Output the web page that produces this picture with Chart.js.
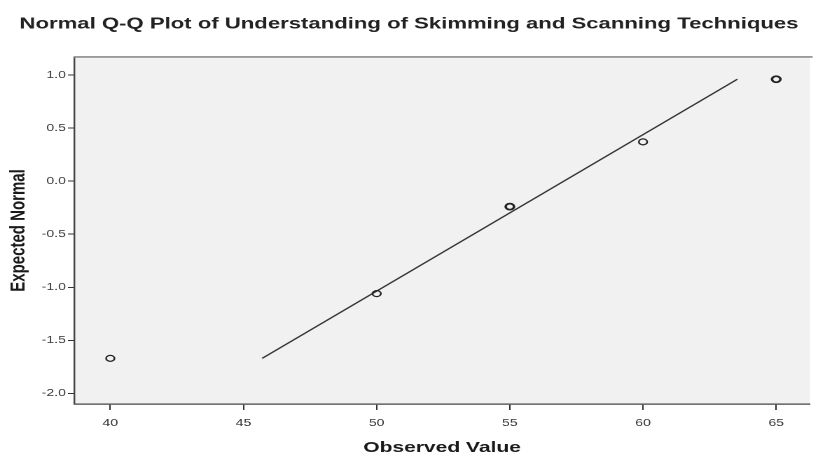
<!DOCTYPE html>
<html>
<head>
<meta charset="utf-8">
<title>Normal Q-Q Plot</title>
<script src="https://cdn.jsdelivr.net/npm/chart.js@4"></script>
<style>
  html, body { margin: 0; padding: 0; background: #fff; overflow: hidden; }
  /* the reference is stretched sideways, so the chart is drawn narrow and widened */
  #wrap {
    position: absolute; left: 0; top: 0;
    width: 584px; height: 459px;
    transform: scaleX(1.40068); transform-origin: 0 0;
  }
</style>
</head>
<body>
<div id="wrap"><canvas id="qq"></canvas></div>
<script>
// observed scores and their expected normal values
const observed = [40, 50, 55, 60, 65];
const expected = [-1.67, -1.06, -0.24, 0.37, 0.96];

// reference line end points
const lineX = [45.70, 63.54];
const lineY = [-1.67, 0.96];

// tick labels
const xTicks = [40, 45, 50, 55, 60, 65];
const yTicks = [1.0, 0.5, 0.0, -0.5, -1.0, -1.5, -2.0];

const FONT = "'Liberation Sans', Arial, sans-serif";

const plotFrame = {
  id: "plotFrame",
  beforeDraw(chart) {
    const { ctx, chartArea: a } = chart;
    ctx.save();
    ctx.fillStyle = "#f1f1f1";
    ctx.fillRect(a.left, a.top, a.right - a.left, a.bottom - a.top);
    ctx.restore();
  },
  afterDraw(chart) {
    const { ctx, chartArea: a } = chart;
    ctx.save();
    ctx.strokeStyle = "#8c8c8c";
    ctx.lineWidth = 1.6;
    ctx.beginPath();
    ctx.moveTo(a.left, a.top);
    ctx.lineTo(a.right + 2, a.top);
    ctx.stroke();
    ctx.restore();
  }
};

new Chart(document.getElementById("qq"), {
  type: "scatter",
  data: {
    datasets: [
      {
        label: "Observed",
        data: observed.map((x, i) => ({ x: x, y: expected[i] })),
        showLine: false,
        pointStyle: "circle",
        pointRadius: 3,
        pointBackgroundColor: "rgba(0,0,0,0)",
        pointBorderColor: "#222",
        pointBorderWidth: [1.2, 1.2, 1.8, 1.2, 1.8]
      },
      {
        label: "Reference",
        data: lineX.map((x, i) => ({ x: x, y: lineY[i] })),
        showLine: true,
        pointRadius: 0,
        borderColor: "#333",
        borderWidth: 1.2
      }
    ]
  },
  options: {
    responsive: true,
    maintainAspectRatio: false,
    devicePixelRatio: 2,
    animation: false,
    layout: { padding: 0 },
    plugins: {
      legend: { display: false },
      tooltip: { enabled: false },
      title: {
        display: true,
        text: "Normal Q-Q Plot of Understanding of Skimming and Scanning Techniques",
        color: "#222",
        font: { family: FONT, size: 15.8, weight: "bold" },
        padding: { top: 14.5, bottom: 23.5 }
      }
    },
    scales: {
      x: {
        min: 38.646,
        max: 66.264,
        afterBuildTicks: scale => { scale.ticks = xTicks.map(v => ({ value: v })); },
        afterFit: scale => { scale.height = 55; },
        ticks: {
          color: "#333",
          padding: 7,
          font: { family: FONT, size: 10 },
          callback: v => String(v)
        },
        grid: { display: true, drawOnChartArea: false, drawTicks: true, tickLength: 6, color: "#333" },
        border: { display: true, color: "#444", width: 1.2 },
        title: {
          display: true,
          text: "Observed Value",
          color: "#1a1a1a",
          font: { family: FONT, size: 15, weight: "bold" },
          padding: { top: 0, bottom: 2 }
        }
      },
      y: {
        min: -2.10,
        max: 1.17,
        afterBuildTicks: scale => { scale.ticks = yTicks.map(v => ({ value: v })); },
        afterFit: scale => { scale.width = 53; },
        ticks: {
          color: "#333",
          padding: 1.5,
          font: { family: FONT, size: 10 },
          callback: v => v.toFixed(1)
        },
        grid: { display: true, drawOnChartArea: false, drawTicks: true, tickLength: 4.5, color: "#333" },
        border: { display: true, color: "#444", width: 1.2 },
        title: {
          display: true,
          text: "Expected Normal",
          color: "#1a1a1a",
          font: { family: FONT, size: 15, weight: "bold" },
          padding: { top: 4.3, bottom: 0 }
        }
      }
    }
  },
  plugins: [plotFrame]
});
</script>
</body>
</html>
